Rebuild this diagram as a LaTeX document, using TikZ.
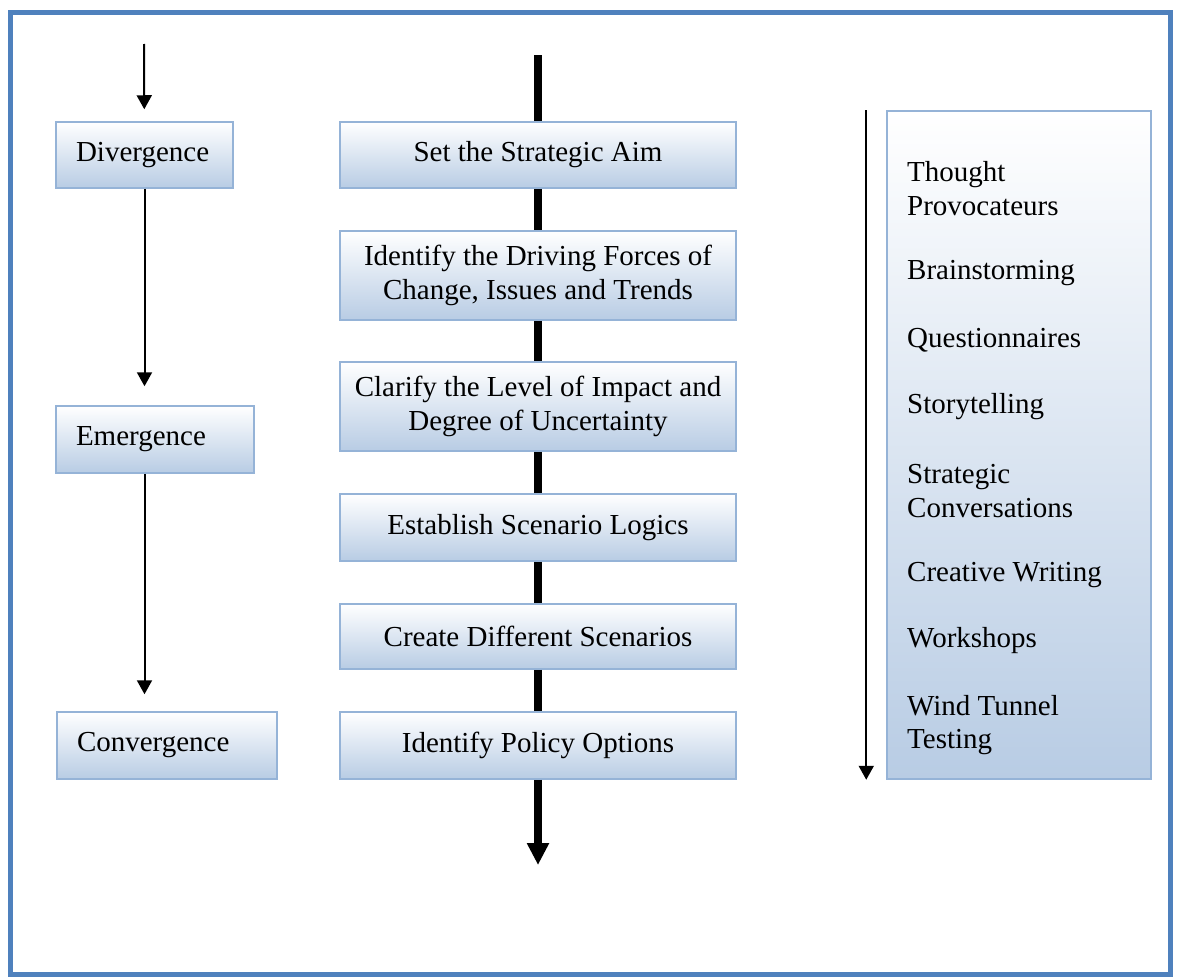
\documentclass[tikz,border=0pt]{standalone}
\usepackage{fontspec}
\setmainfont{Liberation Serif}
\usepackage{tikz}
\usetikzlibrary{shapes,positioning,arrows.meta}

\definecolor{framecol}{RGB}{79,129,189}
\definecolor{boxline}{RGB}{149,179,215}
\definecolor{boxblue}{RGB}{184,204,228}

\tikzset{
  stage/.style={draw=boxline, line width=1.5pt, top color=white, bottom color=boxblue,
    minimum width=396pt, inner sep=0pt, align=center, font=\fontsize{29}{33.5}\selectfont},
  phase/.style={draw=boxline, line width=1.5pt, top color=white, bottom color=boxblue,
    minimum height=67pt, inner xsep=20pt, inner ysep=0pt, align=left, font=\fontsize{29}{33.5}\selectfont},
  tool/.style={anchor=west, inner sep=0pt, align=left, font=\fontsize{29}{33.5}\selectfont},
  flow/.style={line width=2pt, -{Triangle[width=15pt,length=14pt]}},
  spine/.style={line width=7.5pt}
}

\begin{document}
\begin{tikzpicture}[x=1pt,y=-1pt]
\useasboundingbox (0,0) rectangle (1183,977);
\draw[line width=5pt,framecol] (10,12) rectangle (1170,974);

% left column
\node[phase,text width=137pt,minimum height=66pt] (div) at (144.5,155) {Divergence};
\node[phase,text width=158pt] (emg) at (155,439.5) {Emergence};
\node[phase,text width=180pt] (conv) at (167,745.5) {Convergence};
\coordinate (start) at (144,44);
\draw[flow,shorten >=12pt] (start) -- (div);
\draw[flow,shorten >=19pt] (div) -- (div |- emg.north);
\draw[flow,shorten >=17pt] (emg.south -| div) -- (div |- conv.north);

% middle column
\coordinate (top) at (538,55);
\coordinate (end) at (538,865);
\node[stage,minimum height=66pt] (aim) at (538,155) {Set the Strategic Aim};
\node[stage,minimum height=89pt] (forces) at (538,275.5) {Identify the Driving Forces of\\Change, Issues and Trends};
\node[stage,minimum height=89pt] (clarify) at (538,406.5) {Clarify the Level of Impact and\\Degree of Uncertainty};
\node[stage,minimum height=67pt] (logics) at (538,527.5) {Establish Scenario Logics};
\node[stage,minimum height=65pt] (scen) at (538,636.5) {Create Different Scenarios};
\node[stage,minimum height=67pt] (policy) at (538,745.5) {Identify Policy Options};
\draw[spine] (top) -- (aim);
\draw[spine] (aim) -- (forces);
\draw[spine] (forces) -- (clarify);
\draw[spine] (clarify) -- (logics);
\draw[spine] (logics) -- (scen);
\draw[spine] (scen) -- (policy);
\draw[spine,-{Triangle[width=21pt,length=22pt]}] (policy) -- (end);

% right column
\node[draw=boxline, line width=1.5pt, top color=white, bottom color=boxblue,
  minimum width=264pt, minimum height=668pt] (tech) at (1019,445) {};
\draw[flow] ([xshift=-20pt]tech.north west) -- ([xshift=-20pt]tech.south west);
\node[tool] (t1) at (907,188.5) {Thought\\Provocateurs};
\node[tool] (t2) at (907,273) {Brainstorming};
\node[tool] (t3) at (907,340) {Questionnaires};
\node[tool] (t4) at (907,407) {Storytelling};
\node[tool] (t5) at (907,491) {Strategic\\Conversations};
\node[tool] (t6) at (907,575) {Creative Writing};
\node[tool] (t7) at (907,641) {Workshops};
\node[tool] (t8) at (907,725) {Wind Tunnel\\Testing};
\end{tikzpicture}
\end{document}
